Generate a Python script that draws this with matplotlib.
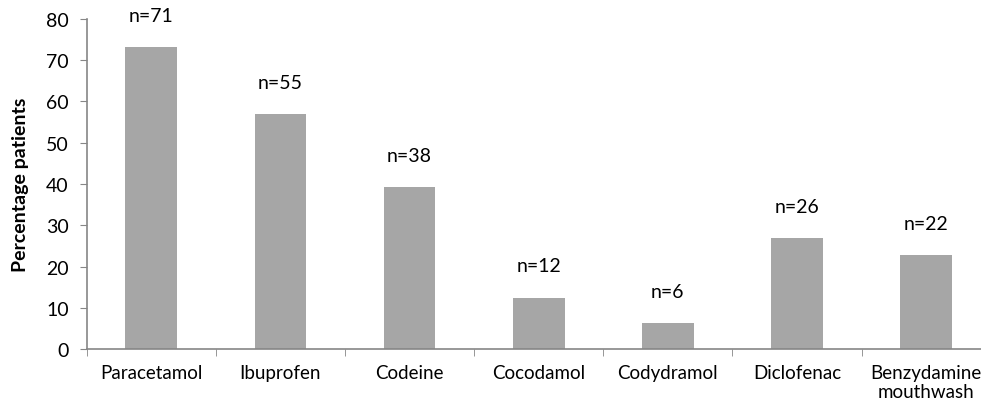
import numpy as np
import matplotlib
matplotlib.use("Agg")
import matplotlib.pyplot as plt

# 數據：各止痛藥使用比例
drugs = ["Paracetamol", "Ibuprofen", "Codeine", "Cocodamol", "Codydramol",
         "Diclofenac", "Benzydamine\nmouthwash"]
percent = [73.2, 56.9, 39.2, 12.4, 6.2, 26.8, 22.7]
counts = [71, 55, 38, 12, 6, 26, 22]

plt.rcParams['font.family'] = ['Lato', 'DejaVu Sans']

fig = plt.figure(figsize=(9.81, 4.10), dpi=100)
ax = fig.add_axes([0.0884, 0.1463, 0.9215, 0.805])

x = np.arange(len(drugs))
ax.bar(x, percent, width=0.40, color='#a6a6a6')

for xi, p, n in zip(x, percent, counts):
    ax.annotate(f"n={n}", (xi, p), xytext=(0, 23), textcoords='offset points',
                ha='center', va='center', fontsize=14, color='#000000')

ax.set_xlim(-0.5, len(drugs) - 0.5)
ax.set_ylim(0, 80)
ax.set_yticks(range(0, 81, 10))
ax.set_xticks(x)
ax.set_xticklabels(drugs, fontsize=13.5, linespacing=1.15)
ax.set_xticks(np.arange(-0.5, len(drugs), 1), minor=True)
ax.tick_params(axis='x', which='major', length=0, pad=11)
ax.tick_params(axis='x', which='minor', length=5, color='#868686', direction='out')
ax.tick_params(axis='y', length=5, color='#868686', labelsize=14, direction='out', pad=8)

# 最後一個標籤稍微左移，避免超出圖片右邊
last = ax.get_xticklabels()[-1]
last.set_x(x[-1] - 0.03)

ax.set_ylabel("Percentage patients", fontsize=14, fontweight='bold', labelpad=12)

for s in ['top', 'right']:
    ax.spines[s].set_visible(False)
for s in ['left', 'bottom']:
    ax.spines[s].set_color('#868686')
    ax.spines[s].set_linewidth(1.2)

fig.savefig("out.png", dpi=100)
